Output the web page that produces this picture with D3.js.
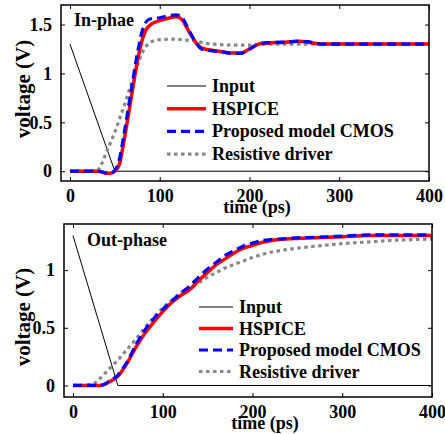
<!DOCTYPE html>
<html><head><meta charset="utf-8">
<script src="https://cdn.jsdelivr.net/npm/d3@7"></script>
<style>body{margin:0;background:#fff}svg{display:block}text{font-family:"Liberation Serif","Times New Roman",serif;font-weight:bold}</style>
</head><body>
<script>
// ---- data ----
const xTicks = [0, 100, 200, 300, 400];
const yTicksTop = [0, 0.5, 1, 1.5];
const yTicksBottom = [0, 0.5, 1];
const yTickLabelsTop = ["0", "0.5", "1", "1.5"];
const yTickLabelsBottom = ["0", "0.5", "1"];
const seriesNames = ["Input", "HSPICE", "Proposed model CMOS", "Resistive driver"];

const inputTime = [0, 50, 400];
const inputValues = [1.3, 0, 0];

const topTime = [0,10,20,30,35,40,45,50,55,60,65,70,75,80,85,90,100,110,118,125,130,135,140,145,150,160,170,180,190,200,210,220,240,255,265,280,300,350,400];
const topHspice = [0,0,0,0,-0.005,-0.02,-0.02,0,0.07,0.3,0.57,0.85,1.12,1.33,1.45,1.5,1.54,1.565,1.58,1.55,1.47,1.39,1.32,1.27,1.25,1.235,1.22,1.21,1.21,1.25,1.3,1.31,1.32,1.33,1.32,1.3,1.3,1.3,1.3];
const topProposed = [0,0,0,0,-0.005,-0.015,-0.015,0.01,0.12,0.37,0.65,0.93,1.2,1.42,1.53,1.56,1.57,1.59,1.6,1.57,1.49,1.4,1.32,1.26,1.24,1.23,1.22,1.205,1.205,1.25,1.3,1.315,1.32,1.33,1.325,1.3,1.3,1.3,1.3];
const topResTime = [0,20,30,35,40,45,50,55,60,65,70,75,80,85,90,100,110,120,130,140,150,160,180,200,220,250,300,400];
const topResistive = [0,0,0,0.07,0.18,0.29,0.4,0.53,0.66,0.8,0.93,1.08,1.2,1.28,1.32,1.345,1.35,1.35,1.34,1.33,1.31,1.3,1.29,1.29,1.3,1.3,1.3,1.3];

const botTime = [0,10,20,30,35,40,50,60,70,80,90,100,110,120,130,140,150,160,170,180,190,200,210,220,230,250,270,300,330,400];
const botHspice = [0,0,0,0,0.01,0.03,0.08,0.19,0.33,0.45,0.55,0.64,0.72,0.78,0.83,0.91,0.98,1.05,1.1,1.15,1.19,1.215,1.24,1.255,1.265,1.275,1.28,1.29,1.3,1.3];
const botProposed = [0,0,0,0,0.01,0.035,0.09,0.2,0.35,0.48,0.58,0.66,0.73,0.8,0.86,0.94,1.01,1.07,1.13,1.17,1.21,1.235,1.255,1.265,1.27,1.28,1.285,1.295,1.305,1.305];
const botResTime = [0,10,15,20,25,30,40,50,60,70,80,90,100,110,120,130,140,150,160,170,180,190,200,220,240,260,280,300,320,340,360,380,400];
const botResistive = [0,0,0.003,0.01,0.025,0.06,0.14,0.22,0.31,0.4,0.5,0.59,0.67,0.74,0.8,0.85,0.89,0.94,0.98,1.02,1.05,1.08,1.11,1.155,1.18,1.2,1.215,1.23,1.24,1.25,1.26,1.265,1.27];

const W = 445, H = 434;
const svg = d3.select("body").append("svg").attr("width", W).attr("height", H);

const styles = [
  {stroke: "#000", width: 1, dash: null},
  {stroke: "#ff0000", width: 3.5, dash: null},
  {stroke: "#0000ff", width: 3.2, dash: "9,5"},
  {stroke: "#888888", width: 3.2, dash: "3.5,3.5"}
];

function zip(t, v) { return t.map((d, i) => [d, v[i]]); }

function panel(cfg) {
  const g = svg.append("g");
  const x = d3.scaleLinear().domain([-10, 400]).range([cfg.x0, cfg.x1]);
  const y = d3.scaleLinear().domain(cfg.yDomain).range([cfg.y1, cfg.y0]);
  const clipId = "clip" + cfg.id;
  svg.append("clipPath").attr("id", clipId).append("rect")
    .attr("x", cfg.x0).attr("y", cfg.y0).attr("width", cfg.x1 - cfg.x0).attr("height", cfg.y1 - cfg.y0);

  const line = d3.line().x(d => x(d[0])).y(d => y(d[1])).curve(d3.curveMonotoneX);
  const plot = g.append("g").attr("clip-path", `url(#${clipId})`);
  const order = [0, 3, 1, 2];
  order.forEach(k => {
    const s = styles[k];
    plot.append("path").datum(cfg.series[k])
      .attr("d", k === 0 ? d3.line().x(d => x(d[0])).y(d => y(d[1]))(cfg.series[k]) : line(cfg.series[k]))
      .attr("fill", "none").attr("stroke", s.stroke).attr("stroke-width", s.width)
      .attr("stroke-dasharray", s.dash);
  });

  const tl = 4;
  const ax = g.append("g");
  ax.append("g").attr("transform", `translate(0,${cfg.y1})`)
    .call(d3.axisBottom(x).tickValues(xTicks).tickSize(-tl).tickPadding(8).tickFormat(d3.format("d")))
    .call(s => s.select(".domain").remove());
  ax.append("g").attr("transform", `translate(0,${cfg.y0})`)
    .call(d3.axisTop(x).tickValues(xTicks).tickSize(-tl).tickFormat(""))
    .call(s => s.select(".domain").remove());
  ax.append("g").attr("transform", `translate(${cfg.x0},0)`)
    .call(d3.axisLeft(y).tickValues(cfg.yTicks).tickSize(-tl).tickPadding(9)
      .tickFormat((d, i) => cfg.yLabels[i]))
    .call(s => s.select(".domain").remove());
  ax.append("g").attr("transform", `translate(${cfg.x1},0)`)
    .call(d3.axisRight(y).tickValues(cfg.yTicks).tickSize(-tl).tickFormat(""))
    .call(s => s.select(".domain").remove());
  ax.selectAll(".tick line").attr("stroke", "#000").attr("stroke-width", 1);
  ax.selectAll(".tick text").attr("font-size", 18).attr("fill", "#000")
    .attr("font-family", "Liberation Serif").attr("font-weight", "bold");
  g.append("rect").attr("x", cfg.x0).attr("y", cfg.y0).attr("width", cfg.x1 - cfg.x0).attr("height", cfg.y1 - cfg.y0)
    .attr("fill", "none").attr("stroke", "#000").attr("stroke-width", 1.5);

  g.append("text").attr("x", cfg.xlx).attr("y", cfg.y1 + 32)
    .attr("text-anchor", "middle").attr("font-size", 18).text("time (ps)");
  g.append("text").attr("transform", `translate(30,${cfg.yly}) rotate(-90)`)
    .attr("text-anchor", "middle").attr("font-size", 21).text("voltage (V)");
  g.append("text").attr("x", cfg.ax).attr("y", cfg.ay).attr("font-size", 18).text(cfg.title);

  const lg = g.append("g");
  seriesNames.forEach((n, i) => {
    const ly = cfg.ly + i * cfg.lstep;
    const s = styles[i];
    lg.append("line").attr("x1", cfg.lx).attr("x2", cfg.lx + cfg.llen).attr("y1", ly).attr("y2", ly)
      .attr("stroke", s.stroke).attr("stroke-width", s.width).attr("stroke-dasharray", s.dash);
    lg.append("text").attr("x", cfg.lx + cfg.llen + 6).attr("y", ly + 6).attr("font-size", 18).text(n);
  });
}

panel({
  id: "top", x0: 61, x1: 429, y0: 5, y1: 181, yDomain: [-0.1, 1.7],
  yTicks: yTicksTop, yLabels: yTickLabelsTop, title: "In-phae", ax: 74, ay: 26,
  xlx: 257, yly: 89,
  lx: 167, llen: 39, ly: 86, lstep: 22.7,
  series: [zip(inputTime, inputValues), zip(topTime, topHspice), zip(topTime, topProposed), zip(topResTime, topResistive)]
});
panel({
  id: "bot", x0: 64, x1: 432, y0: 224, y1: 397, yDomain: [-0.1, 1.4],
  yTicks: yTicksBottom, yLabels: yTickLabelsBottom, title: "Out-phase", ax: 87, ay: 246,
  xlx: 265, yly: 317,
  lx: 199, llen: 34, ly: 307, lstep: 21.5,
  series: [zip(inputTime, inputValues), zip(botTime, botHspice), zip(botTime, botProposed), zip(botResTime, botResistive)]
});
</script>
</body></html>
